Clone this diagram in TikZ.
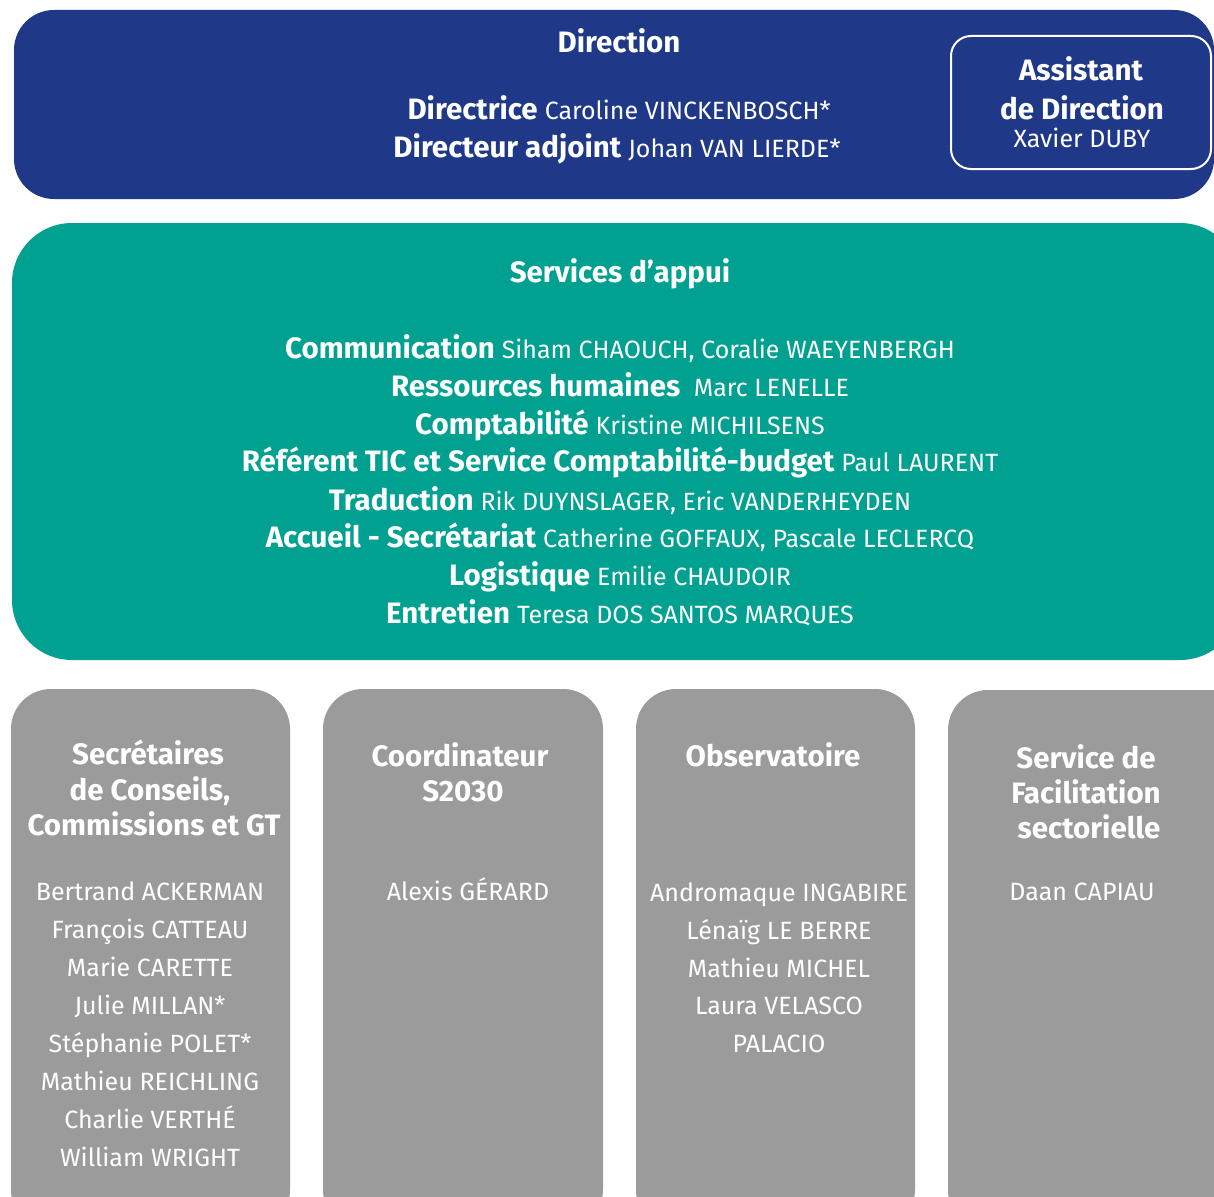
\documentclass[tikz,border=0pt]{standalone}
\usepackage{fontspec}
\setmainfont{Fira Sans}
\definecolor{dirblue}{RGB}{31,56,136}
\definecolor{appteal}{RGB}{0,161,144}
\definecolor{unitgray}{RGB}{155,155,155}
\newcommand{\hd}{\fontsize{29.5}{34}\selectfont\bfseries}
\newcommand{\nm}{\fontsize{25}{30}\selectfont}
% bold label followed by a name in regular weight
\newcommand{\role}[2]{{\hd #1}\hspace{7pt}{\nm #2}}
\begin{document}
\begin{tikzpicture}[x=1pt,y=-1pt,
  head/.style={text=white,font=\hd,inner sep=0pt,anchor=base},
  item/.style={text=white,font=\nm,inner sep=0pt,anchor=base},
  line/.style={text=white,inner sep=0pt,anchor=base}]
\useasboundingbox (0,0) rectangle (1214,1196);
% Direction band
\fill[dirblue,rounded corners=40pt] (14,10) rectangle (1214,199);
\draw[white,line width=2pt,rounded corners=20pt] (951,36) rectangle (1211,169);
\node[head] (dir) at (619,53) {Direction};
\node[line] (dirl1) at (619,119) {\role{Directrice}{Caroline VINCKENBOSCH*}};
\node[line] (dirl2) at (617,157) {\role{Directeur adjoint}{Johan VAN LIERDE*}};
\node[head] (asst1) at (1081,81) {Assistant};
\node[head] (asst2) at (1082,119) {de Direction};
\node[item] (asst3) at (1082,147) {Xavier DUBY};
% Support services band
\fill[appteal,rounded corners=60pt] (12,223) rectangle (1240,660);
\node[head] (serv) at (620,282) {Services d’appui};
\foreach \y/\b/\n [count=\i] in {
  358/Communication/{Siham CHAOUCH, Coralie WAEYENBERGH},
  396/Ressources humaines/{\ Marc LENELLE},
  434/Comptabilité/{Kristine MICHILSENS},
  471/Référent TIC et Service Comptabilité-budget/{Paul LAURENT},
  510/Traduction/{Rik DUYNSLAGER, Eric VANDERHEYDEN},
  547/Accueil - Secrétariat/{Catherine GOFFAUX, Pascale LECLERCQ},
  585/Logistique/{Emilie CHAUDOIR},
  623/Entretien/{Teresa DOS SANTOS MARQUES}}
  \node[line] (srv\i) at (620,\y) {\role{\b}{\n}};
% Units
\fill[unitgray,rounded corners=40pt] (11,689) rectangle (290,1230);
\fill[unitgray,rounded corners=40pt] (323,689) rectangle (603,1230);
\fill[unitgray,rounded corners=40pt] (636,689) rectangle (915,1230);
\fill[unitgray,rounded corners=40pt] (948,690) rectangle (1260,1230);
% Unit 1
\node[head] (u1a) at (148,764) {Secrétaires};
\node[head] (u1b) at (150,800) {de Conseils,};
\node[head] (u1c) at (154,835) {Commissions et GT};
\foreach \y/\n [count=\i] in {900/Bertrand ACKERMAN,938/François CATTEAU,976/Marie CARETTE,1014/Julie MILLAN*,1052/Stéphanie POLET*,1090/Mathieu REICHLING,1128/Charlie VERTHÉ,1166/William WRIGHT}
  \node[item] (p1\i) at (150,\y) {\n};
% Unit 2
\node[head] (u2a) at (460,766) {Coordinateur};
\node[head] (u2b) at (463,801) {S2030};
\node[item] (p21) at (468,900) {Alexis GÉRARD};
% Unit 3
\node[head] (u3a) at (773,766) {Observatoire};
\foreach \y/\n [count=\i] in {901/Andromaque INGABIRE,939/Lénaïg LE BERRE,977/Mathieu MICHEL,1014/Laura VELASCO,1052/PALACIO}
  \node[item] (p3\i) at (779,\y) {\n};
% Unit 4
\node[head] (u4a) at (1086,768) {Service de};
\node[head] (u4b) at (1086,803) {Facilitation};
\node[head] (u4c) at (1089,838) {sectorielle};
\node[item] (p41) at (1082,900) {Daan CAPIAU};
\end{tikzpicture}
\end{document}
